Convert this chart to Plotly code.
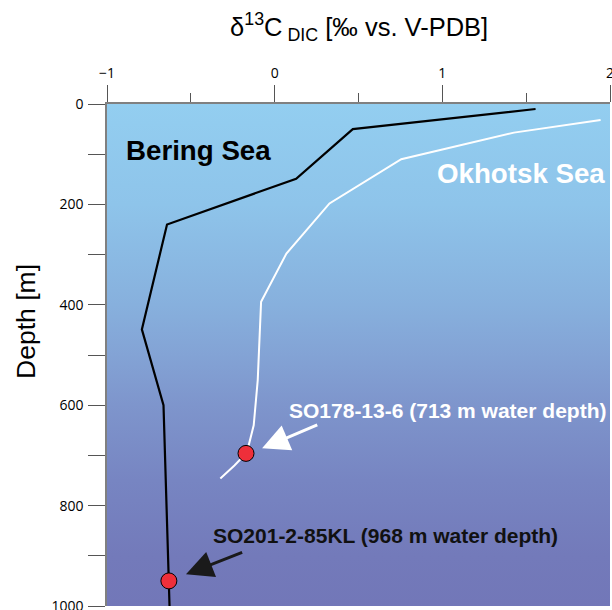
import plotly.graph_objects as go

# Data
bering_d13c = [1.556, 0.466, 0.128, -0.642, -0.792, -0.663, -0.627]
bering_depth = [10, 50, 149, 240, 449, 600, 1000]

okhotsk_d13c = [1.944, 1.427, 0.755, 0.327, 0.070, -0.081, -0.101, -0.125, -0.155, -0.171, -0.24, -0.324]
okhotsk_depth = [32, 57, 110, 198, 298, 394, 550, 640, 680, 696, 720, 746]

core_names = ["SO178-13-6 (713 m water depth)", "SO201-2-85KL (968 m water depth)"]
core_d13c = [-0.171, -0.631]
core_depth = [696, 950]

x_ticks = [-1, 0, 1, 2]
y_ticks = [0, 200, 400, 600, 800, 1000]

LABEL_FONT = "Liberation Sans, Arial, sans-serif"
TICK_FONT = "Open Sans, sans-serif"

fig = go.Figure()

# background gradient of the water column
fig.add_trace(go.Scatter(
    x=[-1.05, 2.05, 2.05, -1.05, -1.05], y=[-10, -10, 1010, 1010, -10],
    mode="lines", line=dict(width=0), fill="toself",
    fillgradient=dict(type="vertical", start=0, stop=1000,
                      colorscale=[[0.0, "#93CEF0"], [0.2, "#8EC4EA"], [0.4, "#87B0DD"],
                                  [0.5, "#83A3D5"], [0.6, "#7E95CC"], [0.75, "#7785C2"],
                                  [0.9, "#737ABA"], [1.0, "#7277B8"]]),
    hoverinfo="skip", showlegend=False))

fig.add_trace(go.Scatter(x=okhotsk_d13c, y=okhotsk_depth, mode="lines",
                         line=dict(color="white", width=2), showlegend=False))
fig.add_trace(go.Scatter(x=bering_d13c, y=bering_depth, mode="lines",
                         line=dict(color="black", width=2.2), showlegend=False))
fig.add_trace(go.Scatter(x=core_d13c, y=core_depth, mode="markers",
                         marker=dict(size=16, color="#EE2F3A", line=dict(color="black", width=1)),
                         text=core_names, showlegend=False))

ann = [
    dict(x=-0.897, y=92, text="<b>Bering Sea</b>", font=dict(size=27.7, color="black")),
    dict(x=0.955, y=138, text="<b>Okhotsk Sea</b>", font=dict(size=27.7, color="white")),
    dict(x=0.076, y=611, text="<b>" + core_names[0] + "</b>", font=dict(size=21, color="white")),
    dict(x=-0.382, y=859, text="<b>" + core_names[1] + "</b>", font=dict(size=21, color="#111")),
]
for a in ann:
    fig.add_annotation(xref="x", yref="y", xanchor="left", yanchor="middle", showarrow=False,
                       font_family=LABEL_FONT, **{k: v for k, v in a.items()})

# arrows
fig.add_annotation(xref="x", yref="y", axref="x", ayref="y", x=-0.075, y=686, ax=0.263, ay=638,
                   text="", showarrow=True, arrowhead=2, arrowsize=1.8, arrowwidth=3, arrowcolor="white",
                   standoff=0)
fig.add_annotation(xref="x", yref="y", axref="x", ayref="y", x=-0.529, y=937, ax=-0.185, ay=892,
                   text="", showarrow=True, arrowhead=2, arrowsize=1.8, arrowwidth=3, arrowcolor="#1a1a1a",
                   standoff=0)

# axis titles
fig.add_annotation(xref="paper", yref="paper", x=0.5, y=1, yshift=77, xanchor="center", yanchor="middle",
                   text="δ<sup>13</sup>C<sub> DIC</sub> [‰ vs. V-PDB]", showarrow=False,
                   font=dict(family=LABEL_FONT, size=25.5, color="black"))
fig.add_annotation(xref="paper", yref="paper", x=-0.1610, y=0.566, xanchor="center", yanchor="middle",
                   text="Depth [m]", textangle=-90, showarrow=False,
                   font=dict(family=LABEL_FONT, size=26.5, color="black"))

fig.update_layout(
    width=612, height=610,
    margin=dict(l=107, r=2, t=104, b=4, autoexpand=False),
    paper_bgcolor="white", plot_bgcolor="#7277B8",
    showlegend=False,
    xaxis=dict(range=[-1, 2], side="top", tickvals=x_ticks, ticks="outside", ticklen=17,
               tickcolor="#555", tickwidth=1, showline=True, linecolor="#808080", linewidth=1.5,
               showgrid=False, zeroline=False, automargin=False, ticklabeloverflow="allow",
               tickfont=dict(family=TICK_FONT, size=14, color="black"),
               minor=dict(dtick=0.5, ticks="outside", ticklen=9, tickcolor="#555", showgrid=False),
               ticklabelstandoff=2),
    yaxis=dict(range=[1000, 0], tickvals=y_ticks, ticks="outside", ticklen=17,
               tickcolor="#555", tickwidth=1, showline=True, linecolor="#808080", linewidth=1.5,
               showgrid=False, zeroline=False, automargin=False, ticklabeloverflow="allow",
               tickfont=dict(family=TICK_FONT, size=14, color="black"),
               minor=dict(dtick=100, ticks="outside", ticklen=17, tickcolor="#555", showgrid=False),
               ticklabelstandoff=2),
)

fig.write_html("out.html", config={"displayModeBar": False},
               post_script="document.body.style.margin='0';document.body.style.overflow='hidden';")
